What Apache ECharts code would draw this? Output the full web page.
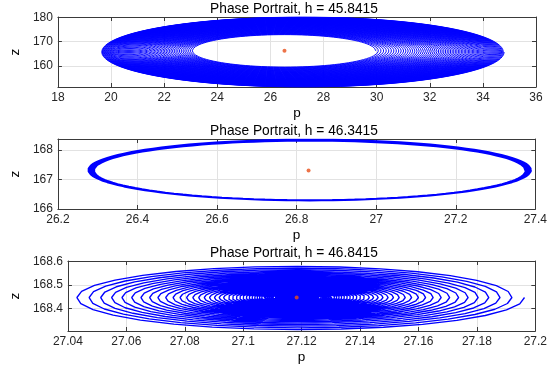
<!DOCTYPE html>
<html><head><meta charset="utf-8">
<script src="https://cdn.jsdelivr.net/npm/echarts@6/dist/echarts.min.js"></script>
<style>html,body{margin:0;padding:0;background:#fff}#c{width:550px;height:365px}</style>
</head><body><div id="c"></div>
<script>
// ---- data ----
const titles = ['Phase Portrait, h = 45.8415', 'Phase Portrait, h = 46.3415', 'Phase Portrait, h = 46.8415'];
const xTicks1 = [18, 20, 22, 24, 26, 28, 30, 32, 34, 36];
const xTicks2 = [26.2, 26.4, 26.6, 26.8, 27, 27.2, 27.4];
const xTicks3 = [27.04, 27.06, 27.08, 27.1, 27.12, 27.14, 27.16, 27.18, 27.2];
const yTicks1 = [160, 170, 180];
const yTicks2 = [166, 167, 168];
const yTicks3 = [168.4, 168.5, 168.6];
const xRange1 = [18, 36], xRange2 = [26.2, 27.4], xRange3 = [27.04, 27.2];
const yRange1 = [151.2, 180.25], yRange2 = [166, 168.37], yRange3 = [168.304, 168.603];
// trajectory ring extents [pLeft, pRight, zBottom, zTop] at its start and at its end
const startRing1 = [23.1, 29.96, 159.6, 172.9];
const endRing1 = [19.64, 34.8, 151.2, 180.25];
const startRing2 = [26.292, 27.374, 166.31, 168.30];
const endRing2 = [26.2755, 27.39, 166.28, 168.36];
const startRing3 = [27.1186, 27.1186, 168.447, 168.447];
const endRing3 = [27.0409, 27.1963, 168.308, 168.586];
const loopCounts = [80, 24, 80];
const loopSpacingRatio = [0.985, 0.93, 1.058];
const pointsPerLoop = [100, 120, 32];
const equilibriumP = [26.53, 26.83, 27.1183];
const equilibriumZ = [166.25, 167.3, 168.447];

// ---- build ----
const xTicks = [xTicks1, xTicks2, xTicks3];
const yTicks = [yTicks1, yTicks2, yTicks3];
const xRanges = [xRange1, xRange2, xRange3];
const yRanges = [yRange1, yRange2, yRange3];
const startRings = [startRing1, startRing2, startRing3];
const endRings = [endRing1, endRing2, endRing3];
const lineWidths = [0.95, 1.3, 1.35];

function trajectory(s, e, N, q, M) {
  const pts = [];
  const denom = Math.pow(q, N) - 1;
  for (let j = 0; j <= N * M; j++) {
    const t = j / M;
    const f = (Math.pow(q, t) - 1) / denom;
    const L = s[0] + f * (e[0] - s[0]);
    const R = s[1] + f * (e[1] - s[1]);
    const B = s[2] + f * (e[2] - s[2]);
    const T = s[3] + f * (e[3] - s[3]);
    const th = 2 * Math.PI * t;
    pts.push([(L + R) / 2 + (R - L) / 2 * Math.cos(th), (B + T) / 2 + (T - B) / 2 * Math.sin(th)]);
  }
  return pts;
}

const gridTops = [17, 139, 261];
const axisColor = '#3a3a3a';
const font = 'Liberation Sans, Arial, sans-serif';
const fmt = v => String(+(+v).toFixed(4));

const option = { animation: false, title: [], grid: [], xAxis: [], yAxis: [], series: [] };
for (let i = 0; i < 3; i++) {
  option.grid.push({ left: 52, right: 14, top: gridTops[i], height: 70 });
  option.title.push({ text: titles[i], left: 294, top: gridTops[i] - 15, textAlign: 'center', padding: 0,
    textStyle: { fontFamily: font, fontSize: 13.75, fontWeight: 'normal', color: '#000' } });
  const common = (rng, ticks) => ({ type: 'value', gridIndex: i, min: rng[0], max: rng[1],
    axisLine: { show: true, onZero: false, lineStyle: { color: axisColor, width: 1 } },
    axisTick: { show: true, inside: true, length: 4, customValues: ticks, lineStyle: { color: axisColor } } });
  option.xAxis.push(Object.assign(common(xRanges[i], xTicks[i]), {
    position: 'bottom', name: 'p', nameLocation: 'middle', nameGap: 19,
    nameTextStyle: { fontFamily: font, fontSize: 13.5, color: '#000' },
    axisLabel: { customValues: xTicks[i], formatter: fmt, margin: 5, fontFamily: font, fontSize: 12, color: '#262626' },
    splitLine: { show: true, lineStyle: { color: '#e2e2e2', width: 1 } } }));
  option.xAxis.push(Object.assign(common(xRanges[i], xTicks[i]), {
    position: 'top', axisLabel: { show: false }, splitLine: { show: false } }));
  option.yAxis.push(Object.assign(common(yRanges[i], yTicks[i]), {
    position: 'left', name: 'z', nameLocation: 'middle', nameGap: 25,
    nameTextStyle: { fontFamily: font, fontSize: 13.5, color: '#000' },
    axisLabel: { customValues: yTicks[i], formatter: fmt, margin: 5, fontFamily: font, fontSize: 12, color: '#262626' },
    splitLine: { show: true, lineStyle: { color: '#e2e2e2', width: 1 } } }));
  option.yAxis.push(Object.assign(common(yRanges[i], yTicks[i]), {
    position: 'right', axisLabel: { show: false }, splitLine: { show: false } }));
  option.series.push({ type: 'line', xAxisIndex: 2 * i, yAxisIndex: 2 * i, showSymbol: false, symbol: 'none',
    data: trajectory(startRings[i], endRings[i], loopCounts[i], loopSpacingRatio[i], pointsPerLoop[i]),
    lineStyle: { color: '#0000ff', width: lineWidths[i] }, clip: true, z: 2 });
  option.series.push({ type: 'scatter', xAxisIndex: 2 * i, yAxisIndex: 2 * i, symbolSize: 4,
    data: [[equilibriumP[i], equilibriumZ[i]]], itemStyle: { color: '#e8501a' }, z: 3 });
}
const chart = echarts.init(document.getElementById('c'), null, { renderer: 'canvas' });
chart.setOption(option);
</script></body></html>
